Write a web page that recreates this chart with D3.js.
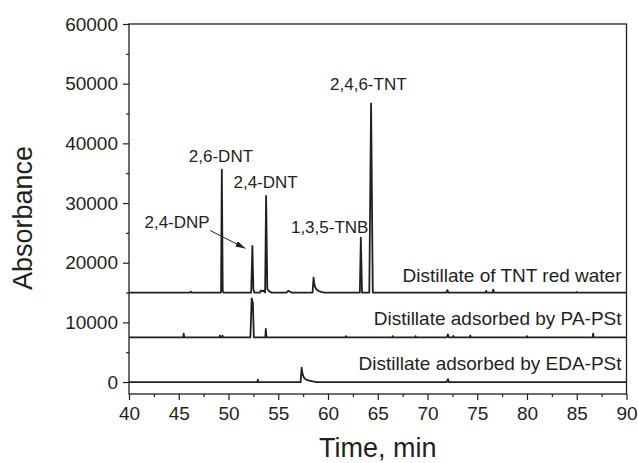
<!DOCTYPE html>
<html lang="en">

<head>
    <meta charset="UTF-8">
    <title>Chromatograms</title>
    <style>
        body {
            margin: 0;
            background-color: #fff;
        }

        text {
            font-family: "Liberation Sans", Arial, sans-serif;
            fill: #231f20;
        }
    </style>
</head>

<body>
    <script src="https://cdn.jsdelivr.net/npm/d3@7"></script>
    <div id="my_dataviz"></div>
    <script>

        // axis ticks
        const timeTicks = [40, 45, 50, 55, 60, 65, 70, 75, 80, 85, 90];
        const timeMinor = [42.5, 47.5, 52.5, 57.5, 62.5, 67.5, 72.5, 77.5, 82.5, 87.5];
        const absTicks = [0, 10000, 20000, 30000, 40000, 50000, 60000];
        const absMinor = [5000, 15000, 25000, 35000, 45000, 55000];

        // traces: [time (min), absorbance above the trace baseline]
        const seriesNames = ["Distillate of TNT red water", "Distillate adsorbed by PA-PSt", "Distillate adsorbed by EDA-PSt"];
        const seriesOffsets = [15000, 7500, 0];

        const tntRedWater = [
            [40, 0], [46.1, 0], [46.2, 150], [46.3, 0],
            [49.25, 0], [49.33, 20600], [49.42, 300], [49.5, 0],
            [52.28, 0], [52.4, 7800], [52.5, 600], [52.6, 0],
            [53.15, 0], [53.25, 350], [53.4, 200], [53.55, 350], [53.68, 0], [53.78, 16200], [53.9, 600], [54.1, 200], [54.3, 0],
            [55.85, 0], [56.0, 300], [56.2, 100], [56.4, 0],
            [58.45, 0], [58.55, 2500], [58.65, 1200], [58.8, 600], [59.0, 300], [59.3, 100], [59.6, 0],
            [63.2, 0], [63.3, 9200], [63.42, 0],
            [64.15, 0], [64.33, 31700], [64.5, 0],
            [71.9, 0], [72.0, 400], [72.1, 0],
            [75.85, 0], [75.9, 300], [75.95, 0],
            [76.55, 0], [76.6, 500], [76.7, 0],
            [84.95, 0], [85.0, 100], [85.05, 0],
            [90, 0]
        ];

        const paPSt = [
            [40, 0], [45.45, 0], [45.5, 600], [45.55, 0],
            [49.1, 0], [49.15, 300], [49.2, 0], [49.35, 0], [49.4, 300], [49.45, 0],
            [52.2, 0], [52.33, 6500], [52.45, 5800], [52.55, 0],
            [53.7, 0], [53.75, 1400], [53.82, 0],
            [61.75, 0], [61.8, 200], [61.85, 0],
            [66.45, 0], [66.5, 200], [66.55, 0],
            [68.75, 0], [68.8, 200], [68.85, 0],
            [71.95, 0], [72.05, 500], [72.15, 0],
            [72.55, 0], [72.6, 250], [72.65, 0],
            [74.25, 0], [74.3, 300], [74.35, 0],
            [79.95, 0], [80.0, 200], [80.05, 0],
            [86.6, 0], [86.65, 600], [86.7, 0],
            [90, 0]
        ];

        const edaPSt = [
            [40, 0], [52.9, 0], [52.95, 400], [53.0, 0],
            [57.25, 0], [57.35, 2400], [57.45, 1300], [57.6, 700], [57.8, 400], [58.1, 250], [58.5, 100], [58.8, 0],
            [71.95, 0], [72.05, 500], [72.15, 0],
            [90, 0]
        ];

        // peak labels, anchored in data units
        const peakLabels = ["2,6-DNT", "2,4-DNT", "2,4-DNP", "1,3,5-TNB", "2,4,6-TNT"];
        const peakLabelTime = [49.24, 53.73, 44.83, 60.17, 64.05];
        const peakLabelAbs = [36900, 32450, 25750, 24900, 48900];
        // arrow from 2,4-DNP label to its peak
        const arrowFrom = [48.15, 25400];
        const arrowTo = [51.7, 22400];
        // trace label anchors (right aligned)
        const seriesLabelTime = 89.5;
        const seriesLabelAbs = [16700, 9600, 2050];

        const ink = "#231f20";

        const margin = { top: 24, right: 11.5, bottom: 69, left: 129 },
            width = 638 - margin.left - margin.right,
            height = 463 - margin.top - margin.bottom;

        const svg = d3.select("#my_dataviz")
            .append("svg")
            .attr("width", 638)
            .attr("height", 463)
            .append("g")
            .attr("transform", `translate(${margin.left},${margin.top})`);

        const x = d3.scaleLinear().domain([40, 90]).range([0, width]);
        const y = d3.scaleLinear().domain([-2000, 60000]).range([height, 0]);

        // y axis, major + minor
        const yAxis = svg.append("g")
            .call(d3.axisLeft(y).tickValues(absTicks).tickSize(6).tickPadding(5).tickFormat(d3.format("d")));
        yAxis.selectAll("text").style("font-size", "19px");
        svg.append("g")
            .call(d3.axisLeft(y).tickValues(absMinor).tickSize(3).tickFormat(""));

        // x axis, major + minor
        const xAxis = svg.append("g")
            .attr("transform", `translate(0, ${height})`)
            .call(d3.axisBottom(x).tickValues(timeTicks).tickSize(6).tickPadding(7));
        xAxis.selectAll("text").style("font-size", "19px");
        svg.append("g")
            .attr("transform", `translate(0, ${height})`)
            .call(d3.axisBottom(x).tickValues(timeMinor).tickSize(3).tickFormat(""));

        svg.selectAll(".domain").remove();
        svg.selectAll(".tick line").attr("stroke", ink).attr("stroke-width", 1.2);

        // frame
        svg.append("rect")
            .attr("width", width)
            .attr("height", height)
            .attr("fill", "none")
            .attr("stroke", ink)
            .attr("stroke-width", 1.3);

        // traces
        const allSeries = [tntRedWater, paPSt, edaPSt];
        allSeries.forEach(function (s, i) {
            svg.append("path")
                .datum(s)
                .attr("fill", "none")
                .attr("stroke", ink)
                .attr("stroke-width", 1.8)
                .attr("stroke-linejoin", "round")
                .attr("d", d3.line()
                    .x(function (d) { return x(d[0]) })
                    .y(function (d) { return y(d[1] + seriesOffsets[i]) })
                );
        });

        // trace labels
        svg.append("g")
            .selectAll("text")
            .data(seriesNames)
            .join("text")
            .attr("x", x(seriesLabelTime))
            .attr("y", (d, i) => y(seriesLabelAbs[i]))
            .attr("text-anchor", "end")
            .style("font-size", "19px")
            .text(d => d);

        // peak labels
        svg.append("g")
            .selectAll("text")
            .data(peakLabels)
            .join("text")
            .attr("x", (d, i) => x(peakLabelTime[i]))
            .attr("y", (d, i) => y(peakLabelAbs[i]))
            .attr("text-anchor", "middle")
            .style("font-size", "17px")
            .text(d => d);

        // arrow
        svg.append("defs").append("marker")
            .attr("id", "arrowhead")
            .attr("viewBox", "0 0 10 6")
            .attr("refX", 10)
            .attr("refY", 3)
            .attr("markerWidth", 10)
            .attr("markerHeight", 6)
            .attr("markerUnits", "userSpaceOnUse")
            .attr("orient", "auto")
            .append("path")
            .attr("d", "M0,0 L10,3 L0,6 Z")
            .attr("fill", ink);

        svg.append("line")
            .attr("x1", x(arrowFrom[0]))
            .attr("y1", y(arrowFrom[1]))
            .attr("x2", x(arrowTo[0]))
            .attr("y2", y(arrowTo[1]))
            .attr("stroke", ink)
            .attr("stroke-width", 1)
            .attr("marker-end", "url(#arrowhead)");

        // axis titles
        svg.append("text")
            .attr("transform", `translate(${32 - margin.left}, ${218 - margin.top}) rotate(-90)`)
            .attr("text-anchor", "middle")
            .style("font-size", "27px")
            .text("Absorbance");

        svg.append("text")
            .attr("x", width / 2)
            .attr("y", 457 - margin.top)
            .attr("text-anchor", "middle")
            .style("font-size", "27px")
            .text("Time, min");

    </script>
</body>

</html>
